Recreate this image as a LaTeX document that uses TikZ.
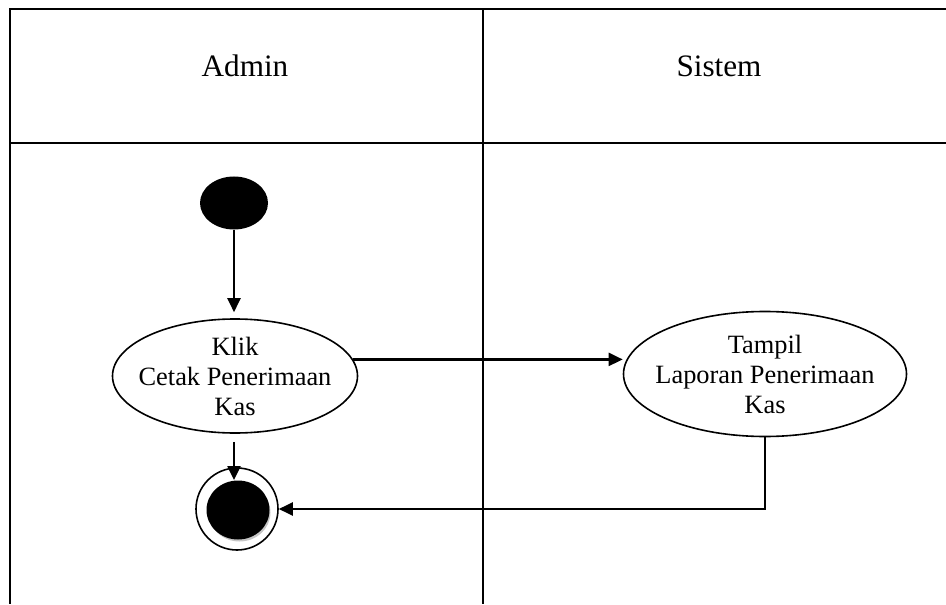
\documentclass[tikz,border=0pt]{standalone}
\usepackage{fontspec}
\setmainfont{Liberation Serif}
\usetikzlibrary{arrows.meta,shapes,positioning,calc}
\tikzset{lane/.style={line width=1.4pt},
  flow/.style={line width=1.1pt,-{Triangle[length=7pt,width=6.5pt]}},
  act/.style={ellipse,draw,line width=0.8pt,align=center,inner xsep=-30pt,inner ysep=-30pt,font=\fontsize{13.2}{15}\selectfont},
  head/.style={font=\fontsize{15.6}{18}\selectfont}}

\begin{document}
\begin{tikzpicture}[x=0.5pt,y=-0.5pt]
\useasboundingbox (0,0) rectangle (946,604);

\draw[lane] (946,9) -- (10,9) -- (10,604);
\draw[lane] (10,143) -- (946,143);
\draw[lane] (483,9) -- (483,604);

\node[head] (admin) at (245,66) {Admin};
\node[head] (sistem) at (719,66) {Sistem};

\node[ellipse,fill=black,minimum width=34pt,minimum height=26.5pt,inner sep=0pt] (start) at (234,203) {};

\node[act,minimum width=122.5pt,minimum height=57pt] (klik) at (235,376) {Klik\\Cetak Penerimaan\\Kas};
\node[act,minimum width=141.5pt,minimum height=62.5pt] (tampil) at (765,374) {Tampil\\Laporan Penerimaan\\Kas};

\node[ellipse,draw,line width=0.8pt,minimum width=41pt,minimum height=41pt,inner sep=0pt] (final) at (237,509) {};
\fill[gray!45] (239.5,512.5) ellipse (15.5pt and 14.5pt);
\node[ellipse,fill=black,minimum width=31.5pt,minimum height=29.5pt,inner sep=0pt] (finalin) at (238,510) {};

\draw[flow,shorten >=3pt] (start) -- (start |- klik.north);
\draw[flow] (klik.8) -- (tampil.west |- klik.8);
\draw[flow,shorten <=4pt] (start |- klik.south) -- (start |- finalin.north);
\draw[flow] (tampil.south) |- (final.east);

\end{tikzpicture}
\end{document}
